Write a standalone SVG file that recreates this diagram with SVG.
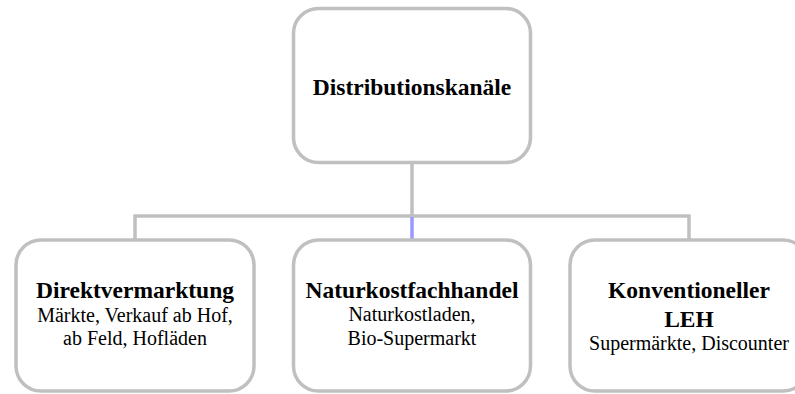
<svg xmlns="http://www.w3.org/2000/svg" width="795" height="394" viewBox="0 0 795 394">
<style>
.box{fill:#fff;stroke:#c0c0c0;stroke-width:3.5}
.con{fill:none;stroke:#c0c0c0;stroke-width:3.5}
.blue{fill:none;stroke:#9999ff;stroke-width:3.5}
text{font-family:"Liberation Serif","Times New Roman",serif;fill:#000;text-anchor:middle}
.h{font-weight:bold;font-size:23.5px}
.s{font-size:20px}
</style>
<rect width="795" height="394" fill="#fff"/>
<g id="connectors">
<path class="con" d="M412,162 V216 M135,240 V216 H689 V240"/>
<path class="blue" d="M412,217 V239"/>
</g>
<g id="root">
<rect class="box" x="293.5" y="8.5" width="237" height="154" rx="25"/>
<text class="h" x="412" y="95">Distributionskanäle</text>
</g>
<g id="direkt">
<rect class="box" x="16" y="240" width="238" height="151" rx="25"/>
<text class="h" x="135" y="298">Direktvermarktung</text>
<text class="s" x="135" y="322">Märkte, Verkauf ab Hof,</text>
<text class="s" x="135" y="345">ab Feld, Hofläden</text>
</g>
<g id="natur">
<rect class="box" x="293.5" y="240" width="237" height="151" rx="25"/>
<text class="h" x="412" y="298">Naturkostfachhandel</text>
<text class="s" x="412" y="321">Naturkostladen,</text>
<text class="s" x="412" y="345">Bio-Supermarkt</text>
</g>
<g id="konv">
<rect class="box" x="570" y="240" width="238" height="151" rx="25"/>
<text class="h" x="689" y="298">Konventioneller</text>
<text class="h" x="689" y="327">LEH</text>
<text class="s" x="689" y="350">Supermärkte, Discounter</text>
</g>
</svg>
